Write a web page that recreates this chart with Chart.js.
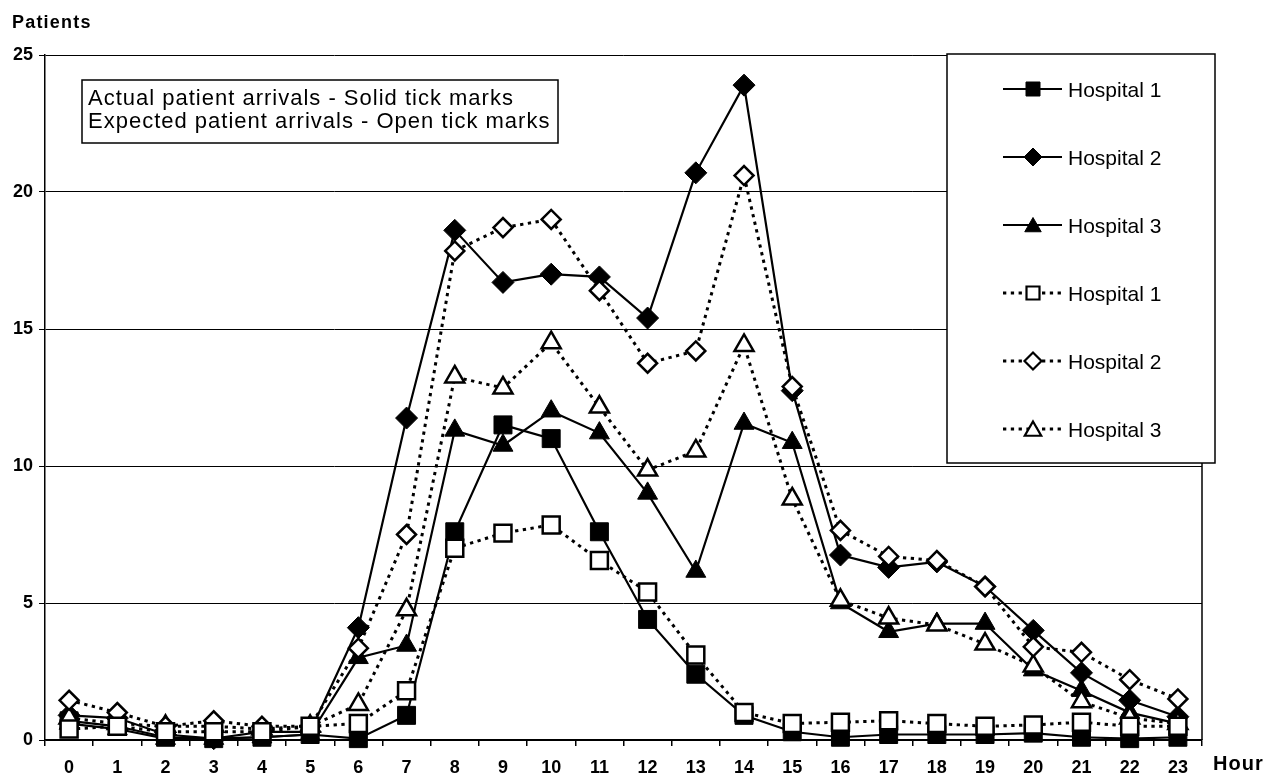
<!DOCTYPE html>
<html>
<head>
<meta charset="utf-8">
<title>Patient arrivals by hour</title>
<script src="https://cdn.jsdelivr.net/npm/chart.js@4.4.1/dist/chart.umd.min.js"></script>
<style>
  html, body { margin: 0; padding: 0; background: #fff; }
  canvas { display: block; }
</style>
</head>
<body>
<canvas id="chart" width="1263" height="776"></canvas>
<script>
// Hour of day (category axis)
const hours = ['0','1','2','3','4','5','6','7','8','9','10','11','12','13','14','15','16','17','18','19','20','21','22','23'];

// Actual patient arrivals per hour
const actualH1 = [0.7, 0.5, 0.1, 0.05, 0.1, 0.2, 0.05, 0.9, 7.6, 11.5, 11.0, 7.6, 4.4, 2.4, 0.9, 0.3, 0.1, 0.2, 0.2, 0.2, 0.25, 0.1, 0.05, 0.1];
const actualH2 = [0.9, 0.8, 0.2, 0.05, 0.3, 0.3, 4.1, 11.75, 18.6, 16.7, 17.0, 16.9, 15.4, 20.7, 23.9, 12.75, 6.75, 6.3, 6.5, 5.6, 4.0, 2.45, 1.45, 0.85];
const actualH3 = [0.6, 0.4, 0.05, 0.05, 0.1, 0.2, 3.0, 3.45, 11.3, 10.75, 12.0, 11.2, 9.0, 6.15, 11.55, 10.85, 5.0, 3.95, 4.25, 4.25, 2.55, 1.8, 1.0, 0.6];

// Expected patient arrivals per hour
const expectedH1 = [0.4, 0.5, 0.3, 0.3, 0.3, 0.5, 0.6, 1.8, 7.0, 7.55, 7.85, 6.55, 5.4, 3.1, 1.0, 0.6, 0.65, 0.7, 0.6, 0.5, 0.55, 0.65, 0.5, 0.5];
const expectedH2 = [1.45, 1.0, 0.5, 0.7, 0.5, 0.5, 3.35, 7.5, 17.85, 18.7, 19.0, 16.4, 13.75, 14.2, 20.6, 12.9, 7.65, 6.7, 6.55, 5.6, 3.4, 3.2, 2.2, 1.5];
const expectedH3 = [0.8, 0.6, 0.5, 0.5, 0.4, 0.5, 1.3, 4.75, 13.25, 12.85, 14.5, 12.15, 9.85, 10.55, 14.4, 8.8, 5.1, 4.45, 4.2, 3.5, 2.7, 1.4, 0.8, 0.6];

// Axis ticks and text
const yTicks = [0, 5, 10, 15, 20, 25];
const seriesNames = ['Hospital 1', 'Hospital 2', 'Hospital 3'];
const noteLines = ['Actual patient arrivals - Solid tick marks', 'Expected patient arrivals - Open tick marks'];
const yTitle = 'Patients';
const xTitle = 'Hour';

const FONT = "'Liberation Sans', Arial, Helvetica, sans-serif";
const DASH = [3.3, 4.5];

function solidSeries(label, data, style, r) {
  return {
    label, data, pointStyle: style, pointRadius: r, pointHoverRadius: r,
    borderColor: '#000', backgroundColor: '#000', borderWidth: 2.2,
    pointBackgroundColor: '#000', pointBorderColor: '#000', pointBorderWidth: 1,
    tension: 0, clip: false, order: 1
  };
}
function openSeries(label, data, style, r) {
  return {
    label, data, pointStyle: style, pointRadius: r, pointHoverRadius: r,
    borderColor: '#000', backgroundColor: '#fff', borderWidth: 3, borderDash: DASH,
    pointBackgroundColor: '#fff', pointBorderColor: '#000', pointBorderWidth: 2.5,
    tension: 0, clip: false, order: 0
  };
}

// Small marker drawn in the legend box
function drawMarker(ctx, style, x, y, r, filled) {
  ctx.save();
  ctx.beginPath();
  if (style === 'rect') {
    ctx.rect(x - r, y - r, 2 * r, 2 * r);
  } else if (style === 'rectRot') {
    ctx.moveTo(x - r, y); ctx.lineTo(x, y - r); ctx.lineTo(x + r, y); ctx.lineTo(x, y + r); ctx.closePath();
  } else {
    const h = r * 1.5, w = r * Math.sqrt(3) / 2;
    ctx.moveTo(x, y - r); ctx.lineTo(x + w, y - r + h); ctx.lineTo(x - w, y - r + h); ctx.closePath();
  }
  ctx.fillStyle = filled ? '#000' : '#fff';
  ctx.fill();
  ctx.lineWidth = filled ? 1 : 2.2;
  ctx.strokeStyle = '#000';
  ctx.stroke();
  ctx.restore();
}

function spacedText(ctx, text, x, y, spacing) {
  if ('letterSpacing' in ctx) {
    ctx.letterSpacing = spacing + 'px';
    ctx.fillText(text, x, y);
    ctx.letterSpacing = '0px';
  } else {
    let cx = x;
    for (const ch of text) { ctx.fillText(ch, cx, y); cx += ctx.measureText(ch).width + spacing; }
  }
}

const decorations = {
  id: 'decorations',
  beforeDatasetsDraw(chart) {
    const { ctx, chartArea: a } = chart;
    ctx.save();
    ctx.strokeStyle = '#000';
    ctx.lineWidth = 1.5;
    ctx.beginPath();
    ctx.moveTo(a.right, a.top);
    ctx.lineTo(a.right, a.bottom);
    ctx.stroke();
    ctx.restore();
  },
  afterDraw(chart) {
    const { ctx } = chart;
    ctx.save();
    ctx.fillStyle = '#000';
    ctx.textAlign = 'left';
    ctx.textBaseline = 'alphabetic';

    // Axis titles
    ctx.font = `bold 18px ${FONT}`;
    spacedText(ctx, yTitle, 12, 28, 1.2);
    ctx.font = `bold 20px ${FONT}`;
    spacedText(ctx, xTitle, 1213, 770, 1.0);

    // Note box
    ctx.fillStyle = '#fff';
    ctx.fillRect(82, 80, 476, 63);
    ctx.strokeStyle = '#000';
    ctx.lineWidth = 1.5;
    ctx.strokeRect(82, 80, 476, 63);
    ctx.fillStyle = '#000';
    ctx.font = `22px ${FONT}`;
    spacedText(ctx, noteLines[0], 88, 105, 1.0);
    spacedText(ctx, noteLines[1], 88, 128, 1.0);

    // Legend box
    ctx.fillStyle = '#fff';
    ctx.fillRect(947, 54, 268, 409);
    ctx.strokeRect(947, 54, 268, 409);

    const entries = [
      { style: 'rect', r: 7, filled: true, dash: [] },
      { style: 'rectRot', r: 9, filled: true, dash: [] },
      { style: 'triangle', r: 9.5, filled: true, dash: [] },
      { style: 'rect', r: 6.5, filled: false, dash: DASH },
      { style: 'rectRot', r: 8.5, filled: false, dash: DASH },
      { style: 'triangle', r: 9.5, filled: false, dash: DASH }
    ];
    entries.forEach((e, i) => {
      const cy = 89 + i * 68;
      ctx.save();
      ctx.strokeStyle = '#000';
      ctx.lineWidth = e.filled ? 2.2 : 2.8;
      ctx.setLineDash(e.dash);
      ctx.beginPath();
      ctx.moveTo(1003, cy);
      ctx.lineTo(1062, cy);
      ctx.stroke();
      ctx.restore();
      drawMarker(ctx, e.style, 1033, cy + (e.style === 'triangle' ? 2 : 0), e.r, e.filled);
      ctx.fillStyle = '#000';
      ctx.font = `21px ${FONT}`;
      ctx.fillText(seriesNames[i % 3], 1068, cy + 7.5);
    });
    ctx.restore();
  }
};

const tickFont = { family: FONT, size: 18, weight: 'bold' };

new Chart(document.getElementById('chart'), {
  type: 'line',
  data: {
    labels: hours,
    datasets: [
      openSeries(seriesNames[0], expectedH1, 'rect', 12),
      openSeries(seriesNames[1], expectedH2, 'rectRot', 9.5),
      openSeries(seriesNames[2], expectedH3, 'triangle', 11),
      solidSeries(seriesNames[0], actualH1, 'rect', 12.7),
      solidSeries(seriesNames[1], actualH2, 'rectRot', 11),
      solidSeries(seriesNames[2], actualH3, 'triangle', 11.5)
    ]
  },
  options: {
    responsive: false,
    devicePixelRatio: 1,
    animation: false,
    events: [],
    layout: { padding: { top: 55, right: 61, bottom: 0, left: 0 } },
    plugins: { legend: { display: false }, tooltip: { enabled: false } },
    scales: {
      x: {
        type: 'category',
        offset: true,
        grid: { display: true, drawOnChartArea: false, drawTicks: true, tickLength: 6, offset: true, color: '#000', lineWidth: 1.5 },
        border: { display: true, color: '#000', width: 1.5 },
        ticks: { color: '#000', font: tickFont, padding: 11, maxRotation: 0, autoSkip: false },
        afterFit(s) { s.height = 36; }
      },
      y: {
        min: 0,
        max: 25,
        afterBuildTicks(s) { s.ticks = yTicks.map(v => ({ value: v })); },
        grid: { display: true, drawTicks: true, tickLength: 6, color: '#000', lineWidth: 1 },
        border: { display: true, color: '#000', width: 1.5 },
        ticks: { color: '#000', font: tickFont, padding: 6 },
        afterFit(s) { s.width = 45; }
      }
    }
  },
  plugins: [decorations]
});
</script>
</body>
</html>
